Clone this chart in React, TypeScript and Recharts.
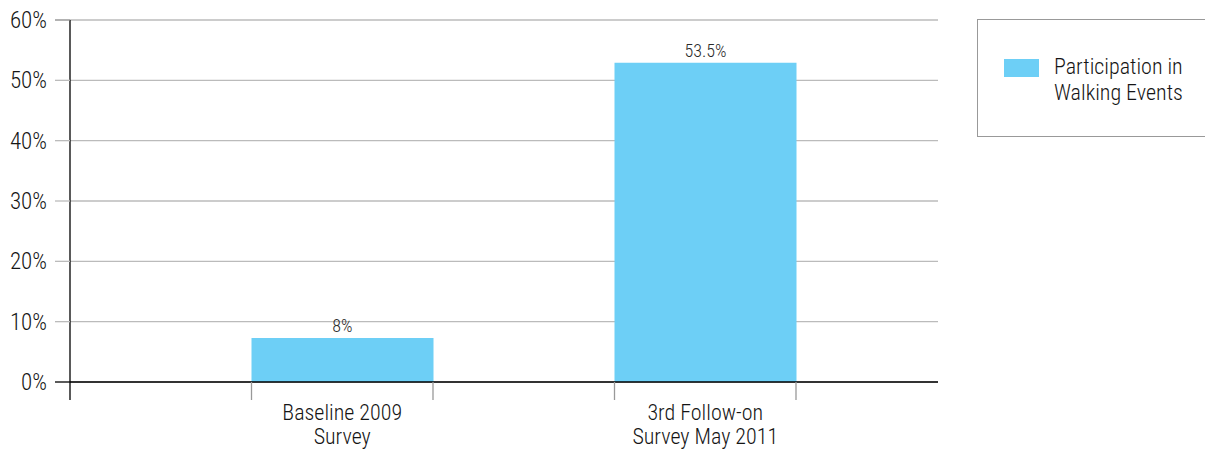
import { Bar, BarChart, CartesianGrid, LabelList, Legend, XAxis, YAxis } from 'recharts';

const categories = ['', 'Baseline 2009\nSurvey', '', '3rd Follow-on\nSurvey May 2011'];
const participation = [null, 7.3, null, 52.9];
const barLabels = ['', '8%', '', '53.5%'];
const yTicks = [0, 10, 20, 30, 40, 50, 60];
const seriesName = 'Participation in\nWalking Events';

const FONT = "'Roboto Condensed', Roboto, sans-serif";
const BLUE = '#6dcff6';
const INK = '#151515';
const textStyle = { fontStretch: 'condensed' as const, fontWeight: 300 };

const data = categories.map((category, i) => ({
  category,
  value: participation[i],
  label: barLabels[i],
}));

function CategoryTick(props: any) {
  const { x, y, payload, index } = props;
  const half = payload?.offset ?? 90.75;
  const value: string = payload?.value ?? '';
  if (!value) {
    if (index === 0) {
      return <line x1={x - half} x2={x - half} y1={y} y2={y + 18} stroke="#000" strokeWidth={1.3} />;
    }
    return null;
  }
  const lines = value.split('\n');
  return (
    <g>
      <line x1={x - half} x2={x - half} y1={y} y2={y + 18} stroke="#999" strokeWidth={1.3} />
      <line x1={x + half} x2={x + half} y1={y} y2={y + 18} stroke="#999" strokeWidth={1.3} />
      {lines.map((l, i) => (
        <text
          key={i}
          x={x}
          y={y + 38 + i * 24}
          textAnchor="middle"
          fill={INK}
          fontSize={22}
          fontFamily={FONT}
          style={textStyle}
        >
          {l}
        </text>
      ))}
    </g>
  );
}

function PercentTick(props: any) {
  const { x, y, payload } = props;
  const v = payload?.value;
  const stroke = v === 0 ? '#000' : v === 60 ? '#888' : '#bbb';
  return (
    <g>
      <line x1={x - 15} x2={x} y1={y} y2={y} stroke={stroke} strokeWidth={1.3} />
      <text x={x - 23} y={y + 8} textAnchor="end" fill={INK} fontSize={23} fontFamily={FONT} style={textStyle}>
        {`${v}%`}
      </text>
    </g>
  );
}

function LegendBox() {
  const lines = seriesName.split('\n');
  return (
    <div
      style={{
        width: 234,
        height: 118,
        boxSizing: 'border-box',
        border: '1px solid #999',
        position: 'relative',
        fontFamily: FONT,
        fontSize: 22,
        color: INK,
        ...textStyle,
      }}
    >
      <div style={{ position: 'absolute', left: 26, top: 39, width: 35, height: 18, background: BLUE }} />
      <div style={{ position: 'absolute', left: 76, top: 34, lineHeight: '26px', whiteSpace: 'nowrap' }}>
        {lines.map((l, i) => (
          <div key={i}>{l}</div>
        ))}
      </div>
    </div>
  );
}

export default function App() {
  return (
    <BarChart
      width={1200}
      height={442}
      data={data}
      margin={{ top: 12, right: 270, left: 0, bottom: 0 }}
      barCategoryGap={0}
    >
      <CartesianGrid vertical={false} stroke="#bbb" strokeWidth={1.3} />
      <XAxis
        dataKey="category"
        interval={0}
        tick={<CategoryTick />}
        tickLine={false}
        tickSize={0}
        tickMargin={0}
        axisLine={{ stroke: '#000', strokeWidth: 1.5 }}
        padding={{ left: 0, right: 142 }}
        height={68}
      />
      <YAxis
        domain={[0, 60]}
        ticks={yTicks}
        interval={0}
        tick={<PercentTick />}
        tickLine={false}
        tickSize={0}
        tickMargin={0}
        axisLine={{ stroke: '#000', strokeWidth: 1.3 }}
        width={62}
      />
      <Legend
        layout="horizontal"
        verticalAlign="middle"
        align="center"
        content={<LegendBox />}
        wrapperStyle={{ left: 969, top: 11, width: 234, height: 118 }}
      />
      <Bar dataKey="value" name="Participation in Walking Events" fill={BLUE} isAnimationActive={false}>
        <LabelList
          dataKey="label"
          position="top"
          offset={6}
          fill="#2a2a2a"
          fontSize={18}
          fontFamily={FONT}
          style={textStyle}
        />
      </Bar>
    </BarChart>
  );
}
